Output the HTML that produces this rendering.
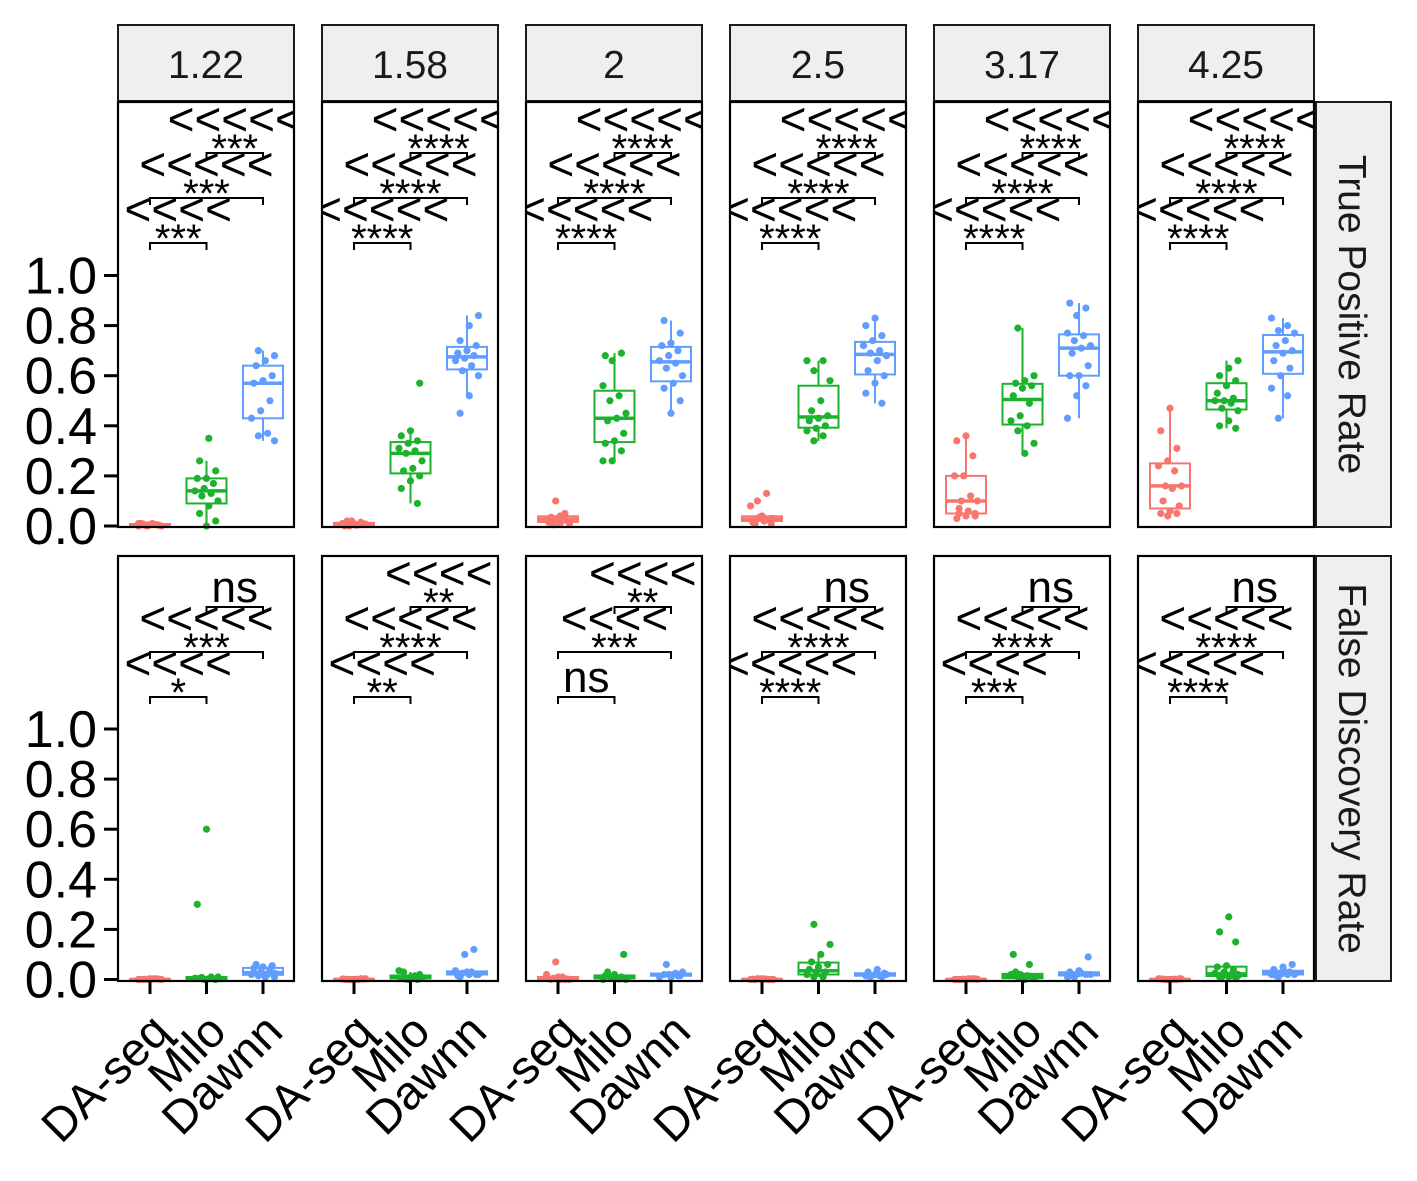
<!DOCTYPE html>
<html><head><meta charset="utf-8">
<style>
html,body{margin:0;padding:0;background:#fff;}
svg{display:block;font-family:"Liberation Sans",Arial,sans-serif;}
</style></head>
<body>
<svg id="chart" xmlns="http://www.w3.org/2000/svg" width="1417" height="1181" viewBox="0 0 1417 1181">
<rect x="0" y="0" width="1417" height="1181" fill="#fff"/>
</svg>
<script>
// ---- data ----
const facetLabels = ["1.22","1.58","2","2.5","3.17","4.25"];
const methods = ["DA-seq","Milo","Dawnn"];
const rowLabels = ["True Positive Rate","False Discovery Rate"];
const yTicks = [0,0.2,0.4,0.6,0.8,1.0];
const yTickLabels = ["0.0","0.2","0.4","0.6","0.8","1.0"];

const tprDaseq = [
 [0,0,0.005,0.01,0.005,0.003,0.008,0.01,0,0.002,0.006,0.01,0.004],
 [0,0.005,0.01,0.02,0.015,0,0.01,0.005,0.02,0.003,0.008,0.012],
 [0.01,0.02,0.03,0.04,0.025,0.1,0.05,0.015,0.03,0.02,0.035,0.04,0.01,0.005],
 [0.01,0.02,0.025,0.03,0.1,0.13,0.08,0.035,0.025,0.015,0.04,0.03,0.01,0.02],
 [0.03,0.04,0.05,0.05,0.06,0.10,0.10,0.12,0.2,0.2,0.28,0.34,0.36,0.04,0.07],
 [0.04,0.05,0.05,0.06,0.08,0.1,0.15,0.16,0.16,0.22,0.24,0.26,0.31,0.38,0.47]
];
const tprMilo = [
 [0,0.02,0.05,0.08,0.1,0.12,0.13,0.14,0.15,0.17,0.19,0.19,0.22,0.26,0.35],
 [0.09,0.15,0.18,0.2,0.22,0.23,0.26,0.29,0.3,0.31,0.33,0.34,0.36,0.38,0.57],
 [0.26,0.26,0.3,0.33,0.34,0.37,0.42,0.43,0.45,0.5,0.52,0.56,0.66,0.69,0.68],
 [0.34,0.36,0.38,0.39,0.4,0.42,0.43,0.44,0.46,0.5,0.58,0.62,0.66,0.66],
 [0.29,0.33,0.38,0.4,0.42,0.44,0.49,0.52,0.55,0.56,0.57,0.58,0.6,0.79],
 [0.39,0.40,0.42,0.46,0.47,0.49,0.5,0.5,0.51,0.53,0.56,0.58,0.6,0.63,0.66]
];
const tprDawnn = [
 [0.34,0.36,0.37,0.43,0.46,0.5,0.57,0.58,0.6,0.64,0.66,0.68,0.70],
 [0.45,0.52,0.6,0.62,0.64,0.66,0.67,0.68,0.69,0.7,0.72,0.74,0.8,0.84],
 [0.45,0.5,0.55,0.57,0.6,0.63,0.65,0.66,0.68,0.7,0.72,0.73,0.77,0.82],
 [0.49,0.53,0.57,0.6,0.62,0.66,0.68,0.69,0.7,0.72,0.74,0.76,0.8,0.83],
 [0.43,0.52,0.56,0.6,0.6,0.64,0.69,0.71,0.72,0.74,0.76,0.77,0.84,0.87,0.89],
 [0.43,0.52,0.55,0.6,0.63,0.66,0.69,0.7,0.72,0.74,0.77,0.78,0.8,0.83]
];
const fdrDaseq = [
 [0,0,0.002,0,0.003,0.001,0,0.002,0,0.001,0.003,0],
 [0,0,0.002,0,0.003,0.001,0,0.002,0,0.001,0.003,0],
 [0,0,0.005,0.01,0.02,0.07,0,0.003,0.01,0.002,0,0.005],
 [0,0,0.002,0,0.003,0.001,0,0.002,0,0.001,0.003,0],
 [0,0,0.002,0,0.003,0.001,0,0.002,0,0.001,0.003,0],
 [0,0,0.002,0,0.003,0.001,0,0.002,0,0.001,0.003,0]
];
const fdrMilo = [
 [0,0,0.005,0.003,0.01,0.008,0.01,0.005,0,0.002,0.3,0.6],
 [0,0.005,0.01,0.02,0.03,0.01,0.005,0.002,0.015,0.035,0,0.01],
 [0,0.005,0.01,0.015,0.02,0.1,0.03,0.005,0,0.01,0.002,0.008],
 [0.01,0.015,0.02,0.03,0.03,0.04,0.05,0.06,0.07,0.1,0.14,0.22,0.01,0.02],
 [0,0.005,0.01,0.015,0.02,0.02,0.06,0.1,0.005,0.01,0.03,0],
 [0.005,0.01,0.01,0.015,0.02,0.02,0.025,0.03,0.04,0.05,0.055,0.15,0.19,0.25,0.02,0.01]
];
const fdrDawnn = [
 [0.01,0.015,0.02,0.02,0.03,0.04,0.045,0.05,0.055,0.06,0.01,0.025],
 [0.01,0.02,0.02,0.025,0.03,0.035,0.1,0.12,0.015,0.03,0.02],
 [0.01,0.015,0.02,0.02,0.03,0.06,0.025,0.01,0.02,0.015],
 [0.01,0.015,0.02,0.025,0.03,0.04,0.02,0.01,0.015],
 [0.01,0.02,0.02,0.03,0.035,0.09,0.015,0.025,0.02,0.01],
 [0.01,0.02,0.02,0.025,0.03,0.04,0.05,0.06,0.015,0.03,0.02]
];
// significance labels per facet: [DA-seq vs Milo, DA-seq vs Dawnn, Milo vs Dawnn]
const tprSig = [["***","***","***"],["****","****","****"],["****","****","****"],["****","****","****"],["****","****","****"],["****","****","****"]];
const fdrSig = [["*","***","ns"],["**","****","**"],["ns","***","**"],["****","****","ns"],["***","****","ns"],["****","****","ns"]];
const tprLt = [[4,5,5],[5,5,5],[5,5,5],[5,5,5],[5,5,5],[5,5,5]];
const fdrLt = [[4,5,0],[4,5,4],[0,4,4],[5,5,0],[4,5,0],[5,5,0]];

// ---- layout ----
const NS = "http://www.w3.org/2000/svg";
const svg = document.getElementById("chart");
const colors = ["#F8766D","#1DB22E","#619CFF"];
const panelW = 176, panelH = 425;
const colX = c => 118 + c*204;
const rowTop = r => 102 + r*454;
const yScale = (r, v) => (r === 0 ? 526 : 979.5) - v*250.5;
const xScale = (c, m) => colX(c) + 32 + m*56.5;

function mk(tag, attrs, parent){
  const e = document.createElementNS(NS, tag);
  for (const k in attrs) e.setAttribute(k, attrs[k]);
  (parent||svg).appendChild(e);
  return e;
}
function quant(s, p){ const h=(s.length-1)*p, lo=Math.floor(h); return s[lo]+(h-lo)*((s[Math.min(lo+1,s.length-1)])-s[lo]); }

const defs = mk("defs", {});
const tprData = [tprDaseq, tprMilo, tprDawnn];
const fdrData = [fdrDaseq, fdrMilo, fdrDawnn];

for (let c=0;c<6;c++){
  const x0 = colX(c);
  const st = mk("rect",{x:x0,y:25,width:panelW,height:76,fill:"#EFEFEF",stroke:"#1a1a1a","stroke-width":2});
  
  
  const stt = mk("text",{x:x0+panelW/2,y:78,"text-anchor":"middle","font-size":39,fill:"#1a1a1a"});
  stt.textContent = facetLabels[c];
  
  

  for (let r=0;r<2;r++){
    const y0 = rowTop(r);
    const g = mk("g",{});
    
    
    const cp = mk("clipPath",{id:"cp"+r+c},defs);
    mk("rect",{x:x0,y:y0,width:panelW,height:panelH},cp);
    const data = r===0?tprData:fdrData;
    for (let m=0;m<3;m++){
      const vals = data[m][c];
      const s = vals.slice().sort((a,b)=>a-b);
      const q1=quant(s,0.25), med=quant(s,0.5), q3=quant(s,0.75), iqr=q3-q1;
      const lo = s.find(v=>v>=q1-1.5*iqr), hi = s.slice().reverse().find(v=>v<=q3+1.5*iqr);
      const cx = xScale(c,m);
      const bg = mk("g",{},g);
      
      
      mk("line",{x1:cx,x2:cx,y1:yScale(r,hi),y2:yScale(r,q3),stroke:colors[m],"stroke-width":2},bg);
      mk("line",{x1:cx,x2:cx,y1:yScale(r,q1),y2:yScale(r,lo),stroke:colors[m],"stroke-width":2},bg);
      mk("rect",{x:cx-20,y:yScale(r,q3),width:40,height:Math.max(0.5,yScale(r,q1)-yScale(r,q3)),fill:"#fff","fill-opacity":0.01,stroke:colors[m],"stroke-width":2},bg);
      mk("line",{x1:cx-20,x2:cx+20,y1:yScale(r,med),y2:yScale(r,med),stroke:colors[m],"stroke-width":3.5},bg);
      vals.forEach((v,i)=>{
        const off = (((i*37+m*5+c*3)%11)-5)*2.3;
        const p = mk("circle",{cx:cx+off,cy:yScale(r,v),r:3.6,fill:colors[m]},bg);
        
        
      });
    }
    const sig = r===0?tprSig[c]:fdrSig[c];
    const lt = r===0?tprLt[c]:fdrLt[c];
    const pairs=[[0,1],[0,2],[1,2]];
    const by=[141,96,51];
    const bgp = mk("g",{"clip-path":"url(#cp"+r+c+")"},g);
    pairs.forEach((pr,k)=>{
      const xa=xScale(c,pr[0]), xb=xScale(c,pr[1]), yy=y0+by[k], xm=(xa+xb)/2;
      const br = mk("path",{d:`M${xa},${yy+7}V${yy}H${xb}V${yy+7}`,fill:"none",stroke:"#000","stroke-width":2},bgp);
      
      
      if (sig[k]==="ns"){
        const t = mk("text",{x:xm,y:yy-5,"text-anchor":"middle","font-size":44,fill:"#000"},bgp);
        t.textContent="ns";
        
        
      } else {
        const t = mk("text",{x:xm,y:yy+9,"text-anchor":"middle","font-size":40,fill:"#000"},bgp);
        t.textContent=sig[k];
        
        
        const t2 = mk("text",{x:xm,y:yy-18,"text-anchor":"middle","font-size":46,fill:"#000"},bgp);
        t2.textContent="<".repeat(lt[k]);
        
        
      }
    });
    const fr = mk("rect",{x:x0,y:y0,width:panelW,height:panelH,fill:"none",stroke:"#000","stroke-width":2.2},g);
    
    
  }
  for (let m=0;m<3;m++){
    const cx=xScale(c,m);
    const tk = mk("line",{x1:cx,x2:cx,y1:981,y2:994,stroke:"#000","stroke-width":3});
    
    
    const ax=cx+22, ay=1034;
    const t = mk("text",{x:ax,y:ay,"text-anchor":"end","font-size":47,fill:"#000",transform:`rotate(-45 ${ax} ${ay})`});
    t.textContent = methods[m];
    
    
  }
}
for (let r=0;r<2;r++){
  yTicks.forEach((v,i)=>{
    const y=yScale(r,v);
    const tk=mk("line",{x1:104,x2:118,y1:y,y2:y,stroke:"#000","stroke-width":3});
    
    
    const t=mk("text",{x:97,y:y+18,"text-anchor":"end","font-size":52,fill:"#000"});
    t.textContent=yTickLabels[i];
    
    
  });
  const y0=rowTop(r);
  const rs=mk("rect",{x:1316,y:y0,width:75,height:panelH,fill:"#EFEFEF",stroke:"#1a1a1a","stroke-width":2});
  
  
  const cy=y0+panelH/2;
  const t=mk("text",{x:1339,y:cy,"text-anchor":"middle","font-size":39,fill:"#1a1a1a",transform:`rotate(90 1339 ${cy})`});
  t.textContent=rowLabels[r];
  
  
}
</script>
</body></html>
